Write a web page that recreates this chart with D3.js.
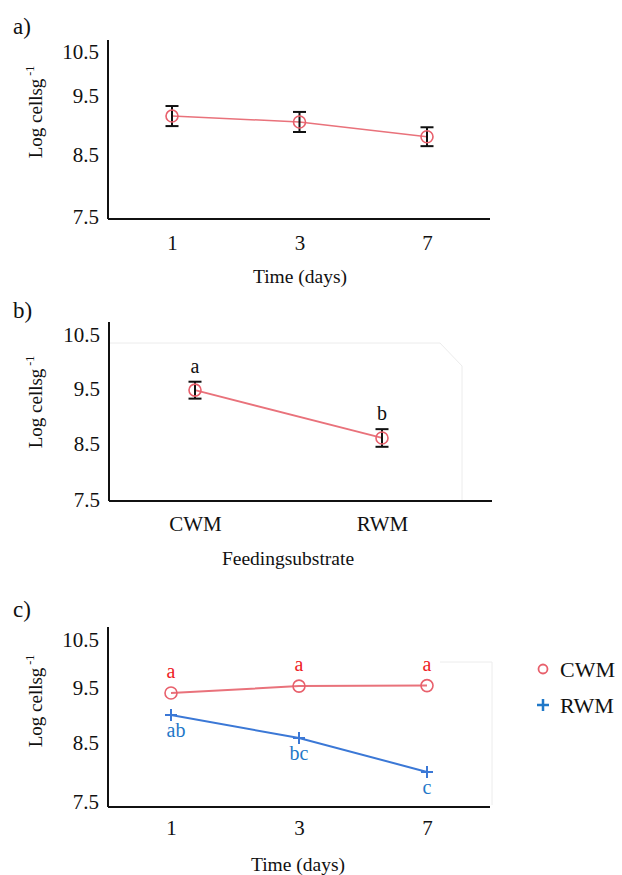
<!DOCTYPE html>
<html><head><meta charset="utf-8">
<script src="https://cdn.jsdelivr.net/npm/d3@7"></script>
<style>
body{margin:0;background:#fff;}
svg{display:block;}
text{font-family:"Liberation Serif";}
</style></head>
<body>
<svg id="chart" width="622" height="875" font-family="Liberation Serif"></svg>
<script>
// ---------- DATA ----------
const yTicks = [7.5, 8.5, 9.5, 10.5];
const yTickLabels = ["7.5", "8.5", "9.5", "10.5"];
// Panel a
const daysA = ["1", "3", "7"];
const meanA = [9.16, 9.06, 8.81];
const errA = [0.17, 0.17, 0.16];
// Panel b
const substrates = ["CWM", "RWM"];
const meanB = [9.48, 8.61];
const errB = [0.155, 0.16];
const lettersB = ["a", "b"];
// Panel c
const daysC = ["1", "3", "7"];
const cwmC = [9.41, 9.54, 9.55];
const rwmC = [9.01, 8.59, 8.01];
const lettersCwm = ["a", "a", "a"];
const lettersRwm = ["ab", "bc", "c"];
const seriesNames = ["CWM", "RWM"];

// ---------- STYLE ----------
const FONT = "Liberation Serif";
const RED_LINE = "#e9727b", RED_MARK = "#e8606c", RED_TXT = "#ee1c25";
const BLUE_LINE = "#3b78d6", BLUE_TXT = "#1f78c8";
const svg = d3.select("#chart");

function yTitle(cx, cy) {
  const t = svg.append("text").attr("transform", `translate(${cx},${cy}) rotate(-90)`)
    .attr("text-anchor", "middle").attr("font-family", FONT).attr("font-size", 19).attr("fill", "#111");
  t.append("tspan").text("Log cellsg");
  t.append("tspan").attr("font-size", 12).attr("dy", -8).text(" -1");
}

function panel(opt) {
  const g = svg.append("g");
  const y = d3.scaleLinear().domain(yTicks).range(opt.yRange);
  const x = d3.scalePoint().domain(opt.cats).range(opt.xRange);
  if (opt.faint) g.append("polyline").attr("points", opt.faint).attr("fill", "none")
    .attr("stroke", "#ececec").attr("stroke-width", 1);
  const ya = g.append("g").attr("transform", `translate(${opt.x0},0)`)
    .call(d3.axisLeft(y).tickValues(yTicks).tickFormat((d, i) => yTickLabels[i]).tickSize(0).tickPadding(9));
  ya.attr("font-family", FONT).attr("font-size", 21);
  ya.select(".domain").remove();
  ya.selectAll("text").attr("font-size", 21).attr("fill", "#111").attr("font-family", FONT);
  g.append("line").attr("x1", opt.x0).attr("x2", opt.x0).attr("y1", opt.yTop).attr("y2", opt.y0)
    .attr("stroke", "#111").attr("stroke-width", 2);
  const xa = g.append("g").attr("transform", `translate(0,${opt.y0})`)
    .call(d3.axisBottom(x).tickSize(0).tickPadding(opt.xPad));
  xa.attr("font-family", FONT).attr("font-size", 21);
  xa.select(".domain").remove();
  xa.selectAll("text").attr("font-size", 21).attr("fill", "#111").attr("font-family", FONT);
  g.append("line").attr("x1", opt.x0).attr("x2", opt.xEnd).attr("y1", opt.y0).attr("y2", opt.y0)
    .attr("stroke", "#111").attr("stroke-width", 2);
  svg.append("text").attr("x", 13).attr("y", opt.labelY).attr("font-family", FONT).attr("font-size", 23)
    .attr("fill", "#111").text(opt.label);
  yTitle(42, opt.yTitleC);
  svg.append("text").attr("x", opt.xTitleX).attr("y", opt.xTitleY).attr("text-anchor", "middle")
    .attr("font-family", FONT).attr("font-size", 19.5).attr("fill", "#111").text(opt.xTitle);
  return { g, x, y };
}

function errorBars(g, x, y, cats, means, errs) {
  const eb = g.selectAll(null).data(cats).enter().append("g").attr("stroke", "#111").attr("stroke-width", 2);
  eb.append("line").attr("x1", d => x(d)).attr("x2", d => x(d))
    .attr("y1", (d, i) => y(means[i] + errs[i])).attr("y2", (d, i) => y(means[i] - errs[i]));
  [1, -1].forEach(s => eb.append("line").attr("x1", d => x(d) - 6.5).attr("x2", d => x(d) + 6.5)
    .attr("y1", (d, i) => y(means[i] + s * errs[i])).attr("y2", (d, i) => y(means[i] + s * errs[i])));
}
function redLine(g, x, y, cats, vals, w) {
  g.append("path").datum(vals).attr("fill", "none").attr("stroke", RED_LINE).attr("stroke-width", w)
    .attr("d", d3.line().x((d, i) => x(cats[i])).y(d => y(d)));
}
function circles(g, x, y, cats, vals) {
  g.selectAll(null).data(vals).enter().append("circle").attr("cx", (d, i) => x(cats[i])).attr("cy", d => y(d))
    .attr("r", 6).attr("fill", "none").attr("stroke", RED_MARK).attr("stroke-width", 1.6);
}

// ---------- PANEL A ----------
{
  const p = panel({ cats: daysA, yRange: [217, 155, 96, 52], xRange: [172, 427], x0: 108, y0: 219, yTop: 40, xEnd: 490,
    xPad: 16, label: "a)", labelY: 34, yTitleC: 112, xTitle: "Time (days)", xTitleX: 300, xTitleY: 283 });
  redLine(p.g, p.x, p.y, daysA, meanA, 1.5);
  errorBars(p.g, p.x, p.y, daysA, meanA, errA);
  circles(p.g, p.x, p.y, daysA, meanA);
}
// ---------- PANEL B ----------
{
  const p = panel({ cats: substrates, yRange: [500, 444, 389, 335], xRange: [195, 382], x0: 109, y0: 501, yTop: 322, xEnd: 492,
    xPad: 15, label: "b)", labelY: 318, yTitleC: 402, xTitle: "Feedingsubstrate", xTitleX: 288, xTitleY: 565,
    faint: "109,343 440,343 462,366 462,500" });
  redLine(p.g, p.x, p.y, substrates, meanB, 1.8);
  errorBars(p.g, p.x, p.y, substrates, meanB, errB);
  circles(p.g, p.x, p.y, substrates, meanB);
  p.g.selectAll(null).data(lettersB).enter().append("text").attr("x", (d, i) => p.x(substrates[i]))
    .attr("y", (d, i) => p.y(meanB[i] + errB[i]) - 9).attr("text-anchor", "middle")
    .attr("font-family", FONT).attr("font-size", 20).attr("fill", "#111").text(d => d);
}
// ---------- PANEL C ----------
{
  const p = panel({ cats: daysC, yRange: [802, 743, 688, 640], xRange: [171, 427], x0: 108, y0: 807, yTop: 627, xEnd: 490,
    xPad: 13, label: "c)", labelY: 617, yTitleC: 701, xTitle: "Time (days)", xTitleX: 298, xTitleY: 871,
    faint: "440,662 492,662 492,805" });
  redLine(p.g, p.x, p.y, daysC, cwmC, 2);
  circles(p.g, p.x, p.y, daysC, cwmC);
  p.g.append("path").datum(rwmC).attr("fill", "none").attr("stroke", BLUE_LINE).attr("stroke-width", 2)
    .attr("d", d3.line().x((d, i) => p.x(daysC[i])).y(d => p.y(d)));
  p.g.selectAll(null).data(rwmC).enter().append("path")
    .attr("d", (d, i) => { const cx = p.x(daysC[i]), cy = p.y(d); return `M${cx - 6},${cy}H${cx + 6}M${cx},${cy - 6}V${cy + 6}`; })
    .attr("stroke", BLUE_LINE).attr("stroke-width", 2);
  p.g.selectAll(null).data(lettersCwm).enter().append("text").attr("x", (d, i) => p.x(daysC[i]))
    .attr("y", (d, i) => p.y(cwmC[i]) - 15).attr("text-anchor", "middle")
    .attr("font-family", FONT).attr("font-size", 20).attr("fill", RED_TXT).text(d => d);
  p.g.selectAll(null).data(lettersRwm).enter().append("text").attr("x", (d, i) => p.x(daysC[i]) + (i === 0 ? 5 : 0))
    .attr("y", (d, i) => p.y(rwmC[i]) + 22).attr("text-anchor", "middle")
    .attr("font-family", FONT).attr("font-size", 20).attr("fill", BLUE_TXT).text(d => d);
  const lg = svg.append("g");
  lg.append("circle").attr("cx", 543).attr("cy", 669).attr("r", 4.5).attr("fill", "none")
    .attr("stroke", RED_MARK).attr("stroke-width", 1.8);
  lg.append("path").attr("d", "M537,705H549M543,699V711").attr("stroke", BLUE_TXT).attr("stroke-width", 2.5);
  lg.selectAll(null).data(seriesNames).enter().append("text").attr("x", 560).attr("y", (d, i) => 677 + i * 36)
    .attr("font-family", FONT).attr("font-size", 22).attr("fill", "#111").text(d => d);
}
</script>
</body></html>
